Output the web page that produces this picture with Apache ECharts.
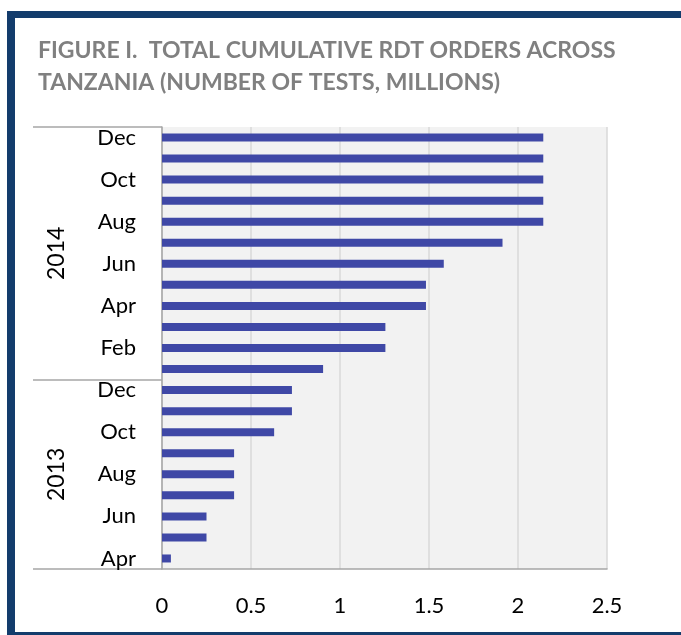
<!DOCTYPE html>
<html>
<head>
<meta charset="utf-8">
<title>Total cumulative RDT orders across Tanzania</title>
<script src="https://cdn.jsdelivr.net/npm/echarts@6.0.0/dist/echarts.min.js"></script>
<style>
  html, body {
    margin: 0;
    padding: 0;
    background: #ffffff;
    overflow: hidden;
  }
  .page {
    position: relative;
    width: 681px;
    height: 635px;
    overflow: hidden;
  }
  #chart {
    position: absolute;
    left: 0;
    top: 0;
    width: 681px;
    height: 635px;
  }
  /* navy report frame, open on the right */
  .frame {
    position: absolute;
    left: 7px;
    top: 11px;
    width: 700px;
    height: 629px;
    box-sizing: border-box;
    border-top: 7px solid #133c6c;
    border-left: 8px solid #133c6c;
    border-bottom: 8px solid #133c6c;
    pointer-events: none;
  }
</style>
</head>
<body>
<div class="page">
  <div id="chart"></div>
  <div class="frame"></div>
</div>
<script>
// months from Apr 2013 (bottom) to Dec 2014 (top)
const months = [
  'Apr', 'May', 'Jun', 'Jul', 'Aug', 'Sep', 'Oct', 'Nov', 'Dec',
  'Jan', 'Feb', 'Mar', 'Apr', 'May', 'Jun', 'Jul', 'Aug', 'Sep', 'Oct', 'Nov', 'Dec'
]
const years = [
  2013, 2013, 2013, 2013, 2013, 2013, 2013, 2013, 2013,
  2014, 2014, 2014, 2014, 2014, 2014, 2014, 2014, 2014, 2014, 2014, 2014
]
// cumulative tests ordered, millions
const orders = [
  0.05, 0.25, 0.25, 0.405, 0.405, 0.405, 0.63, 0.73, 0.73,
  0.905, 1.255, 1.255, 1.483, 1.483, 1.583, 1.913, 2.142, 2.142, 2.142, 2.142, 2.142
]
const xTicks = [0, 0.5, 1, 1.5, 2, 2.5]

const categories = months.map((m, i) => m + ' ' + years[i])
// first index of each year group, used for the separator ticks
const groupStarts = years.map((y, i) => (i === 0 || years[i - 1] !== y) ? i : -1).filter(i => i >= 0)
// centre of each year group on a 0..n scale
const groupLabels = {}
groupStarts.forEach((start, k) => {
  const end = k + 1 < groupStarts.length ? groupStarts[k + 1] : years.length
  groupLabels[(start + end) / 2] = String(years[start])
})

const axisGrey = '#a6a6a6'
const fontFamily = 'Lato, "Liberation Sans", sans-serif'

const chart = echarts.init(document.getElementById('chart'), null, { renderer: 'canvas' })

const option = {
  backgroundColor: '#ffffff',
  animation: false,
  title: {
    text: 'FIGURE I.  TOTAL CUMULATIVE RDT ORDERS ACROSS\nTANZANIA (NUMBER OF TESTS, MILLIONS)',
    left: 33,
    top: 30,
    textStyle: {
      color: '#808080',
      fontFamily: fontFamily,
      fontWeight: 'bold',
      fontSize: 23,
      lineHeight: 32
    }
  },
  grid: {
    left: 162,
    right: 74,
    top: 127,
    bottom: 66,
    show: true,
    backgroundColor: '#f2f2f2',
    borderWidth: 0,
    containLabel: false,
    outerBoundsMode: 'none'
  },
  xAxis: {
    type: 'value',
    min: xTicks[0],
    max: xTicks[xTicks.length - 1],
    interval: xTicks[1] - xTicks[0],
    axisLine: { show: true, lineStyle: { color: axisGrey, width: 1.5 } },
    axisTick: { show: false },
    axisLabel: {
      color: '#000000',
      fontFamily: fontFamily,
      fontSize: 22,
      margin: 26
    },
    splitLine: { lineStyle: { color: '#d9d9d9', width: 1.5 } }
  },
  yAxis: [
    {
      type: 'category',
      data: categories,
      axisLine: { show: true, lineStyle: { color: axisGrey, width: 1.5 } },
      axisTick: {
        show: true,
        inside: false,
        length: 129,
        interval: (idx) => groupStarts.indexOf(idx) >= 0,
        lineStyle: { color: axisGrey, width: 1.5 }
      },
      axisLabel: {
        interval: 1,
        color: '#000000',
        fontFamily: fontFamily,
        fontSize: 22,
        margin: 26,
        padding: [4, 0, 0, 0],
        formatter: (val) => val.split(' ')[0]
      },
      splitLine: { show: false }
    },
    {
      // year labels of the two-level axis
      type: 'value',
      position: 'left',
      min: 0,
      max: years.length,
      interval: 0.5,
      axisLine: { show: false },
      axisTick: { show: false },
      splitLine: { show: false },
      axisLabel: {
        rotate: 90,
        margin: 94,
        color: '#000000',
        fontFamily: fontFamily,
        fontSize: 23,
        formatter: (v) => groupLabels[v] || ''
      }
    }
  ],
  series: [
    {
      name: 'RDT orders',
      type: 'bar',
      yAxisIndex: 0,
      data: orders,
      barWidth: 8,
      itemStyle: { color: '#3f48a6' }
    }
  ]
}

chart.setOption(option)
</script>
</body>
</html>
